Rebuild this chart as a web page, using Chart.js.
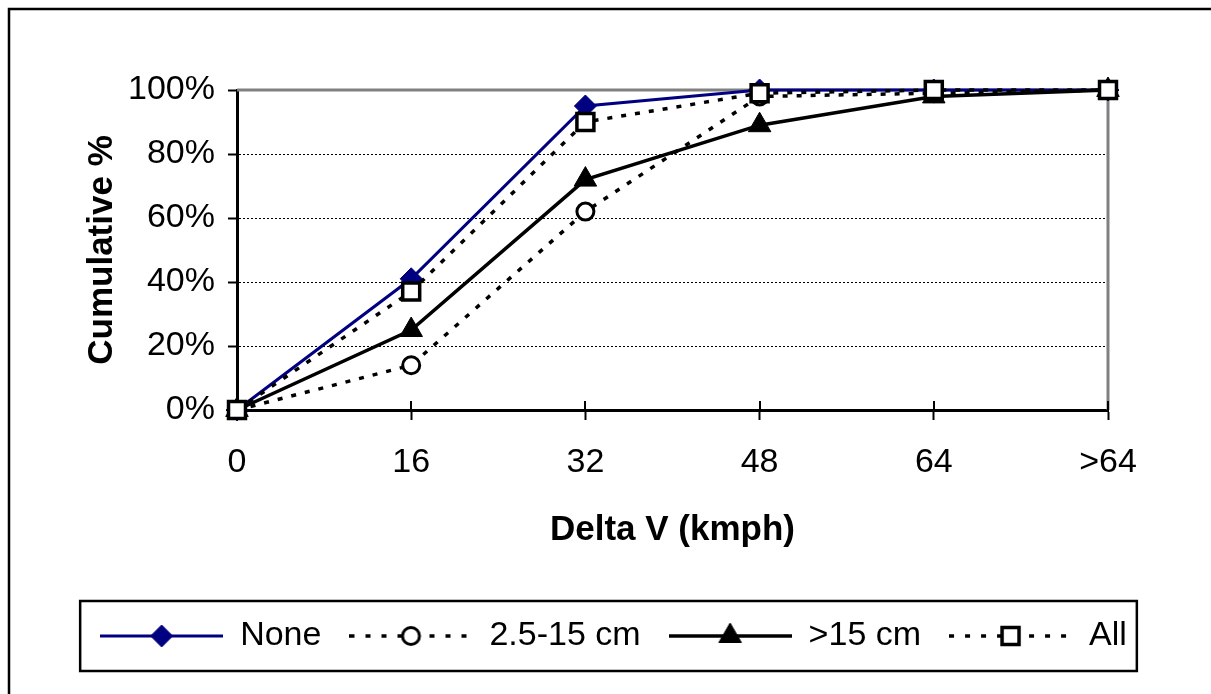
<!DOCTYPE html>
<html>
<head>
<meta charset="utf-8">
<script src="https://cdn.jsdelivr.net/npm/chart.js@4.4.1/dist/chart.umd.min.js"></script>
<style>
  html, body { margin: 0; padding: 0; background: #fff; }
  #wrap { width: 1211px; height: 694px; }
</style>
</head>
<body>
<div id="wrap"><canvas id="chart" width="1211" height="694"></canvas></div>
<script>
// data
const categories = ["0", "16", "32", "48", "64", ">64"];
const seriesNames = ["None", "2.5-15 cm", ">15 cm", "All"];
const noneValues = [0, 41, 95, 100, 100, 100];
const smallValues = [0, 14, 62, 98, 99, 100];
const largeValues = [0, 25, 72, 89, 98, 100];
const allValues = [0, 37, 90, 99, 100, 100];
const yTickStep = 20;

const FONT = "'Liberation Sans', Arial, sans-serif";
const NAVY = "#000080";

// line + marker swatch for the legend
function legendImage(color, width, dash, point) {
    const c = document.createElement("canvas");
    c.width = 123;
    c.height = 32;
    const g = c.getContext("2d");
    g.strokeStyle = color;
    g.lineWidth = width;
    g.setLineDash(dash);
    g.beginPath();
    g.moveTo(0, 16);
    g.lineTo(123, 16);
    g.stroke();
    g.setLineDash([]);
    g.fillStyle = point.fill;
    g.strokeStyle = point.stroke;
    g.lineWidth = point.width;
    Chart.helpers.drawPoint(g, {
        pointStyle: point.style, radius: point.radius, rotation: 0, borderWidth: point.width
    }, 61.5, 16);
    return c;
}

const markers = [
    { style: "rectRot", radius: 11, fill: NAVY, stroke: NAVY, width: 1 },
    { style: "circle", radius: 8.5, fill: "#fff", stroke: "#000", width: 3 },
    { style: "triangle", radius: 13, fill: "#000", stroke: "#000", width: 1 },
    { style: "rect", radius: 12, fill: "#fff", stroke: "#000", width: 3.5 }
];
const lineColors = [NAVY, "#000", "#000", "#000"];
const lineWidths = [3, 3.5, 3.5, 3.5];
const lineDashes = [[], [5, 9], [], [5, 9]];
const seriesValues = [noneValues, smallValues, largeValues, allValues];

const legendImages = markers.map((m, i) =>
    legendImage(lineColors[i], lineWidths[i], lineDashes[i].length ? [5, 11] : [], m));

const datasets = seriesNames.map((name, i) => ({
    label: name,
    data: seriesValues[i],
    borderColor: lineColors[i],
    backgroundColor: markers[i].fill,
    borderWidth: lineWidths[i],
    borderDash: lineDashes[i],
    pointStyle: markers[i].style,
    pointRadius: markers[i].radius,
    pointHoverRadius: markers[i].radius,
    pointBackgroundColor: markers[i].fill,
    pointBorderColor: markers[i].stroke,
    pointBorderWidth: markers[i].width,
    tension: 0,
    clip: false,
    order: 4 - i   // later series sit on top, as in the original
}));

const framePlugin = {
    id: "frame",
    beforeDraw(chart) {
        const ctx = chart.ctx;
        ctx.save();
        ctx.fillStyle = "#fff";
        ctx.fillRect(0, 0, chart.width, chart.height);
        ctx.strokeStyle = "#000";
        ctx.lineWidth = 2.5;
        ctx.strokeRect(9, 9, chart.width + 40, chart.height + 40);
        ctx.restore();
    },
    beforeDatasetsDraw(chart) {
        const ctx = chart.ctx;
        const a = chart.chartArea;
        ctx.save();
        ctx.strokeStyle = "#808080";
        ctx.lineWidth = 3;
        ctx.beginPath();
        ctx.moveTo(a.left, a.top);
        ctx.lineTo(a.right, a.top);
        ctx.lineTo(a.right, a.bottom);
        ctx.stroke();
        // inner half of the crossing x ticks
        const xs = chart.scales.x;
        ctx.strokeStyle = "#000";
        ctx.lineWidth = 2;
        xs.ticks.forEach((t, i) => {
            const px = Math.round(xs.getPixelForTick(i));
            ctx.beginPath();
            ctx.moveTo(px, a.bottom);
            ctx.lineTo(px, a.bottom - 9);
            ctx.stroke();
        });
        ctx.restore();
    },
    afterDraw(chart) {
        const boxes = chart.legend.legendHitBoxes;
        if (!boxes || !boxes.length) return;
        const first = boxes[0];
        const last = boxes[boxes.length - 1];
        const cy = first.top + first.height / 2;
        const ctx = chart.ctx;
        ctx.save();
        ctx.strokeStyle = "#000";
        ctx.lineWidth = 2.5;
        const left = first.left - 20;
        ctx.strokeRect(left, cy - 35, last.left + last.width + 10 - left, 70);
        ctx.restore();
    }
};

new Chart(document.getElementById("chart"), {
    type: "line",
    data: { labels: categories, datasets: datasets },
    plugins: [framePlugin],
    options: {
        responsive: false,
        animation: false,
        devicePixelRatio: 1,
        events: [],
        layout: { padding: { top: 90, left: 16, right: 0, bottom: 31 } },
        plugins: {
            tooltip: { enabled: false },
            legend: {
                position: "bottom",
                labels: {
                    usePointStyle: true,
                    pointStyleWidth: 123,
                    padding: 28,
                    color: "#000",
                    font: { family: FONT, size: 34 },
                    generateLabels: chart => chart.data.datasets.map((ds, i) => ({
                        text: ds.label,
                        pointStyle: legendImages[i],
                        fillStyle: "#fff",
                        strokeStyle: "#fff",
                        lineWidth: 0,
                        hidden: false,
                        datasetIndex: i,
                        fontColor: "#000"
                    }))
                }
            }
        },
        scales: {
            x: {
                offset: false,
                afterFit: s => { s.height = 181; },
                grid: {
                    drawOnChartArea: false,
                    tickLength: 10,
                    tickWidth: 2,
                    tickColor: "#000"
                },
                border: { color: "#000", width: 3 },
                ticks: {
                    color: "#000",
                    padding: 22,
                    maxRotation: 0,
                    font: { family: FONT, size: 34 }
                },
                title: {
                    display: true,
                    text: "Delta V (kmph)",
                    color: "#000",
                    font: { family: FONT, size: 35, weight: "bold" },
                    padding: { top: 0, bottom: 40 }
                }
            },
            y: {
                min: 0,
                max: 100,
                afterFit: s => { s.width = 221; },
                grid: {
                    color: c => (c.tick && (c.tick.value === 0 || c.tick.value === 100)) ? "rgba(0,0,0,0)" : "#000",
                    lineWidth: 1,
                    tickLength: 9,
                    tickWidth: 2,
                    tickColor: "#000",
                    tickBorderDash: []
                },
                border: {
                    color: "#000",
                    width: 3,
                    dash: c => c.type === "tick" ? [2, 2] : []
                },
                ticks: {
                    stepSize: yTickStep,
                    color: "#000",
                    padding: 13,
                    font: { family: FONT, size: 34 },
                    callback: v => v + "%"
                },
                title: {
                    display: true,
                    text: "Cumulative %",
                    color: "#000",
                    font: { family: FONT, size: 35, weight: "bold" },
                    padding: { top: 65, bottom: 0 }
                }
            },
            y2: {
                position: "right",
                grid: { display: false, drawTicks: false },
                ticks: { display: false },
                border: { display: false },
                afterFit: s => { s.width = 103; }
            }
        }
    }
});
</script>
</body>
</html>
